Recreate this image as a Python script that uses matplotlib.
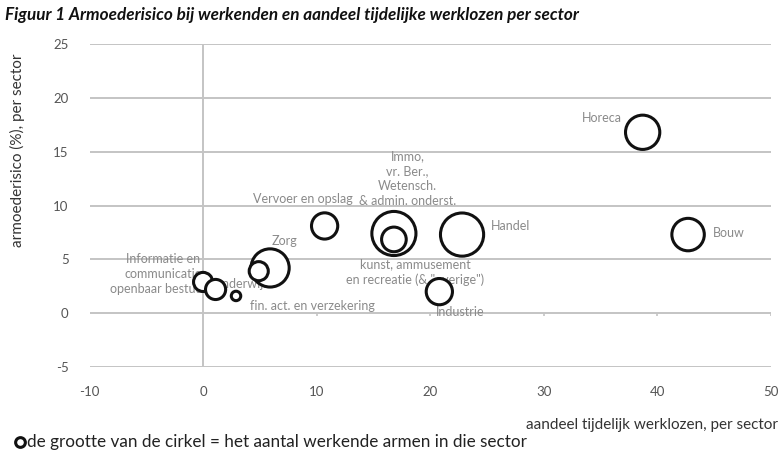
import matplotlib
matplotlib.use("Agg")
import matplotlib.pyplot as plt
from matplotlib.lines import Line2D

plt.rcParams['font.family'] = ['Lato', 'DejaVu Sans']

# Sectoren: aandeel tijdelijk werklozen (x), armoederisico (y), werkende armen (bubbelgrootte)
sectors = ["Horeca", "Bouw", "Handel", "Immo", "Kunst", "Industrie", "Vervoer",
           "Zorg", "Onderwijs", "Informatie", "Openbaar bestuur", "Financiën"]
tijdelijk_werkloos = [38.7, 42.7, 22.8, 16.8, 16.8, 20.8, 10.7, 5.9, 4.9, 0.0, 1.1, 2.9]
armoederisico = [16.8, 7.3, 7.3, 7.4, 6.85, 2.0, 8.1, 4.2, 3.9, 2.9, 2.2, 1.6]
werkende_armen = [29, 26, 46, 48, 15, 17, 17, 36, 9, 9, 10, 2.2]

labels = ["Horeca", "Bouw", "Handel",
          "Immo,\nvr. Ber.,\nWetensch.\n& admin. onderst.",
          "kunst, ammusement\nen recreatie (& \"overige\")",
          "Industrie", "Vervoer en opslag", "Zorg", "onderwijs",
          "Informatie en\ncommunicatie", "openbaar bestuur",
          "fin. act. en verzekering"]

# label anchor (x, y, horizontal alignment)
label_pos = [(36.9, 18.1, 'right'), (44.9, 7.4, 'left'), (25.3, 8.1, 'left'),
             (18.0, 12.5, 'center'), (18.7, 3.8, 'center'), (22.6, 0.1, 'center'),
             (8.8, 10.6, 'center'), (7.2, 6.7, 'center'), (3.5, 2.75, 'center'),
             (-3.5, 4.3, 'center'), (-3.9, 2.2, 'center'), (9.6, 0.65, 'center')]

xticks = [-10, 0, 10, 20, 30, 40, 50]
yticks = [-5, 0, 5, 10, 15, 20, 25]

grid_c = '#c4c4c4'
label_c = '#8a8a8a'
tick_c = '#555555'

fig = plt.figure(figsize=(7.81, 4.5), dpi=100)
ax = fig.add_axes([89.5 / 781, 1 - 367 / 450, (771 - 89.5) / 781, (367 - 44) / 450])
ax.set_xlim(-10, 50)
ax.set_ylim(-5, 25)

for s in ax.spines.values():
    s.set_visible(False)

ax.set_yticks(yticks)
ax.set_xticks(xticks)
ax.grid(axis='y', color=grid_c, lw=1.4)
ax.grid(axis='x', visible=False)
ax.set_axisbelow(True)
ax.tick_params(axis='y', length=0, pad=15, labelsize=9.5, labelcolor=tick_c)
ax.tick_params(axis='x', length=0, pad=14, labelsize=9.5, labelcolor=tick_c)
ax.set_yticklabels([str(v) for v in yticks])
ax.set_xticklabels([str(v) for v in xticks])

# vertical axis line at x = 0 and small ticks on the horizontal axis (y = 0)
ax.axvline(0, color=grid_c, lw=1.4, zorder=1)
ax.vlines([t for t in xticks if t not in (-10, 0)], -0.3, 0, color=grid_c, lw=1.2, zorder=1)

for (lx, ly, ha), txt in zip(label_pos, labels):
    ax.text(lx, ly, txt, ha=ha, va='center', fontsize=9, color=label_c,
            linespacing=1.3, zorder=2)

size_scale = 21.0
ax.scatter(tijdelijk_werkloos, armoederisico, s=[v * size_scale for v in werkende_armen],
           facecolors='white', edgecolors='#111111', linewidths=2.2, zorder=3,
           clip_on=False)

fig.text(5 / 781, 1 - 15 / 450,
         "Figuur 1 Armoederisico bij werkenden en aandeel tijdelijke werklozen per sector",
         fontsize=12.3, fontweight='bold', fontstyle='italic', color='#111111',
         ha='left', va='center')

fig.text(17 / 781, 1 - 150 / 450, "armoederisico (%), per sector", rotation=90,
         fontsize=11, color='#333333', ha='center', va='center')

fig.text(778 / 781, 1 - 425 / 450, "aandeel tijdelijk werklozen, per sector",
         fontsize=11, color='#333333', ha='right', va='center')

fig.add_artist(Line2D([19.5 / 781], [1 - 442 / 450], marker='o', markersize=7,
                      markerfacecolor='white', markeredgecolor='#111111',
                      markeredgewidth=2.2, transform=fig.transFigure))
fig.text(27 / 781, 1 - 442 / 450,
         "de grootte van de cirkel = het aantal werkende armen in die sector",
         fontsize=12.3, color='#222222', ha='left', va='center')

fig.savefig("out.png", dpi=100)
